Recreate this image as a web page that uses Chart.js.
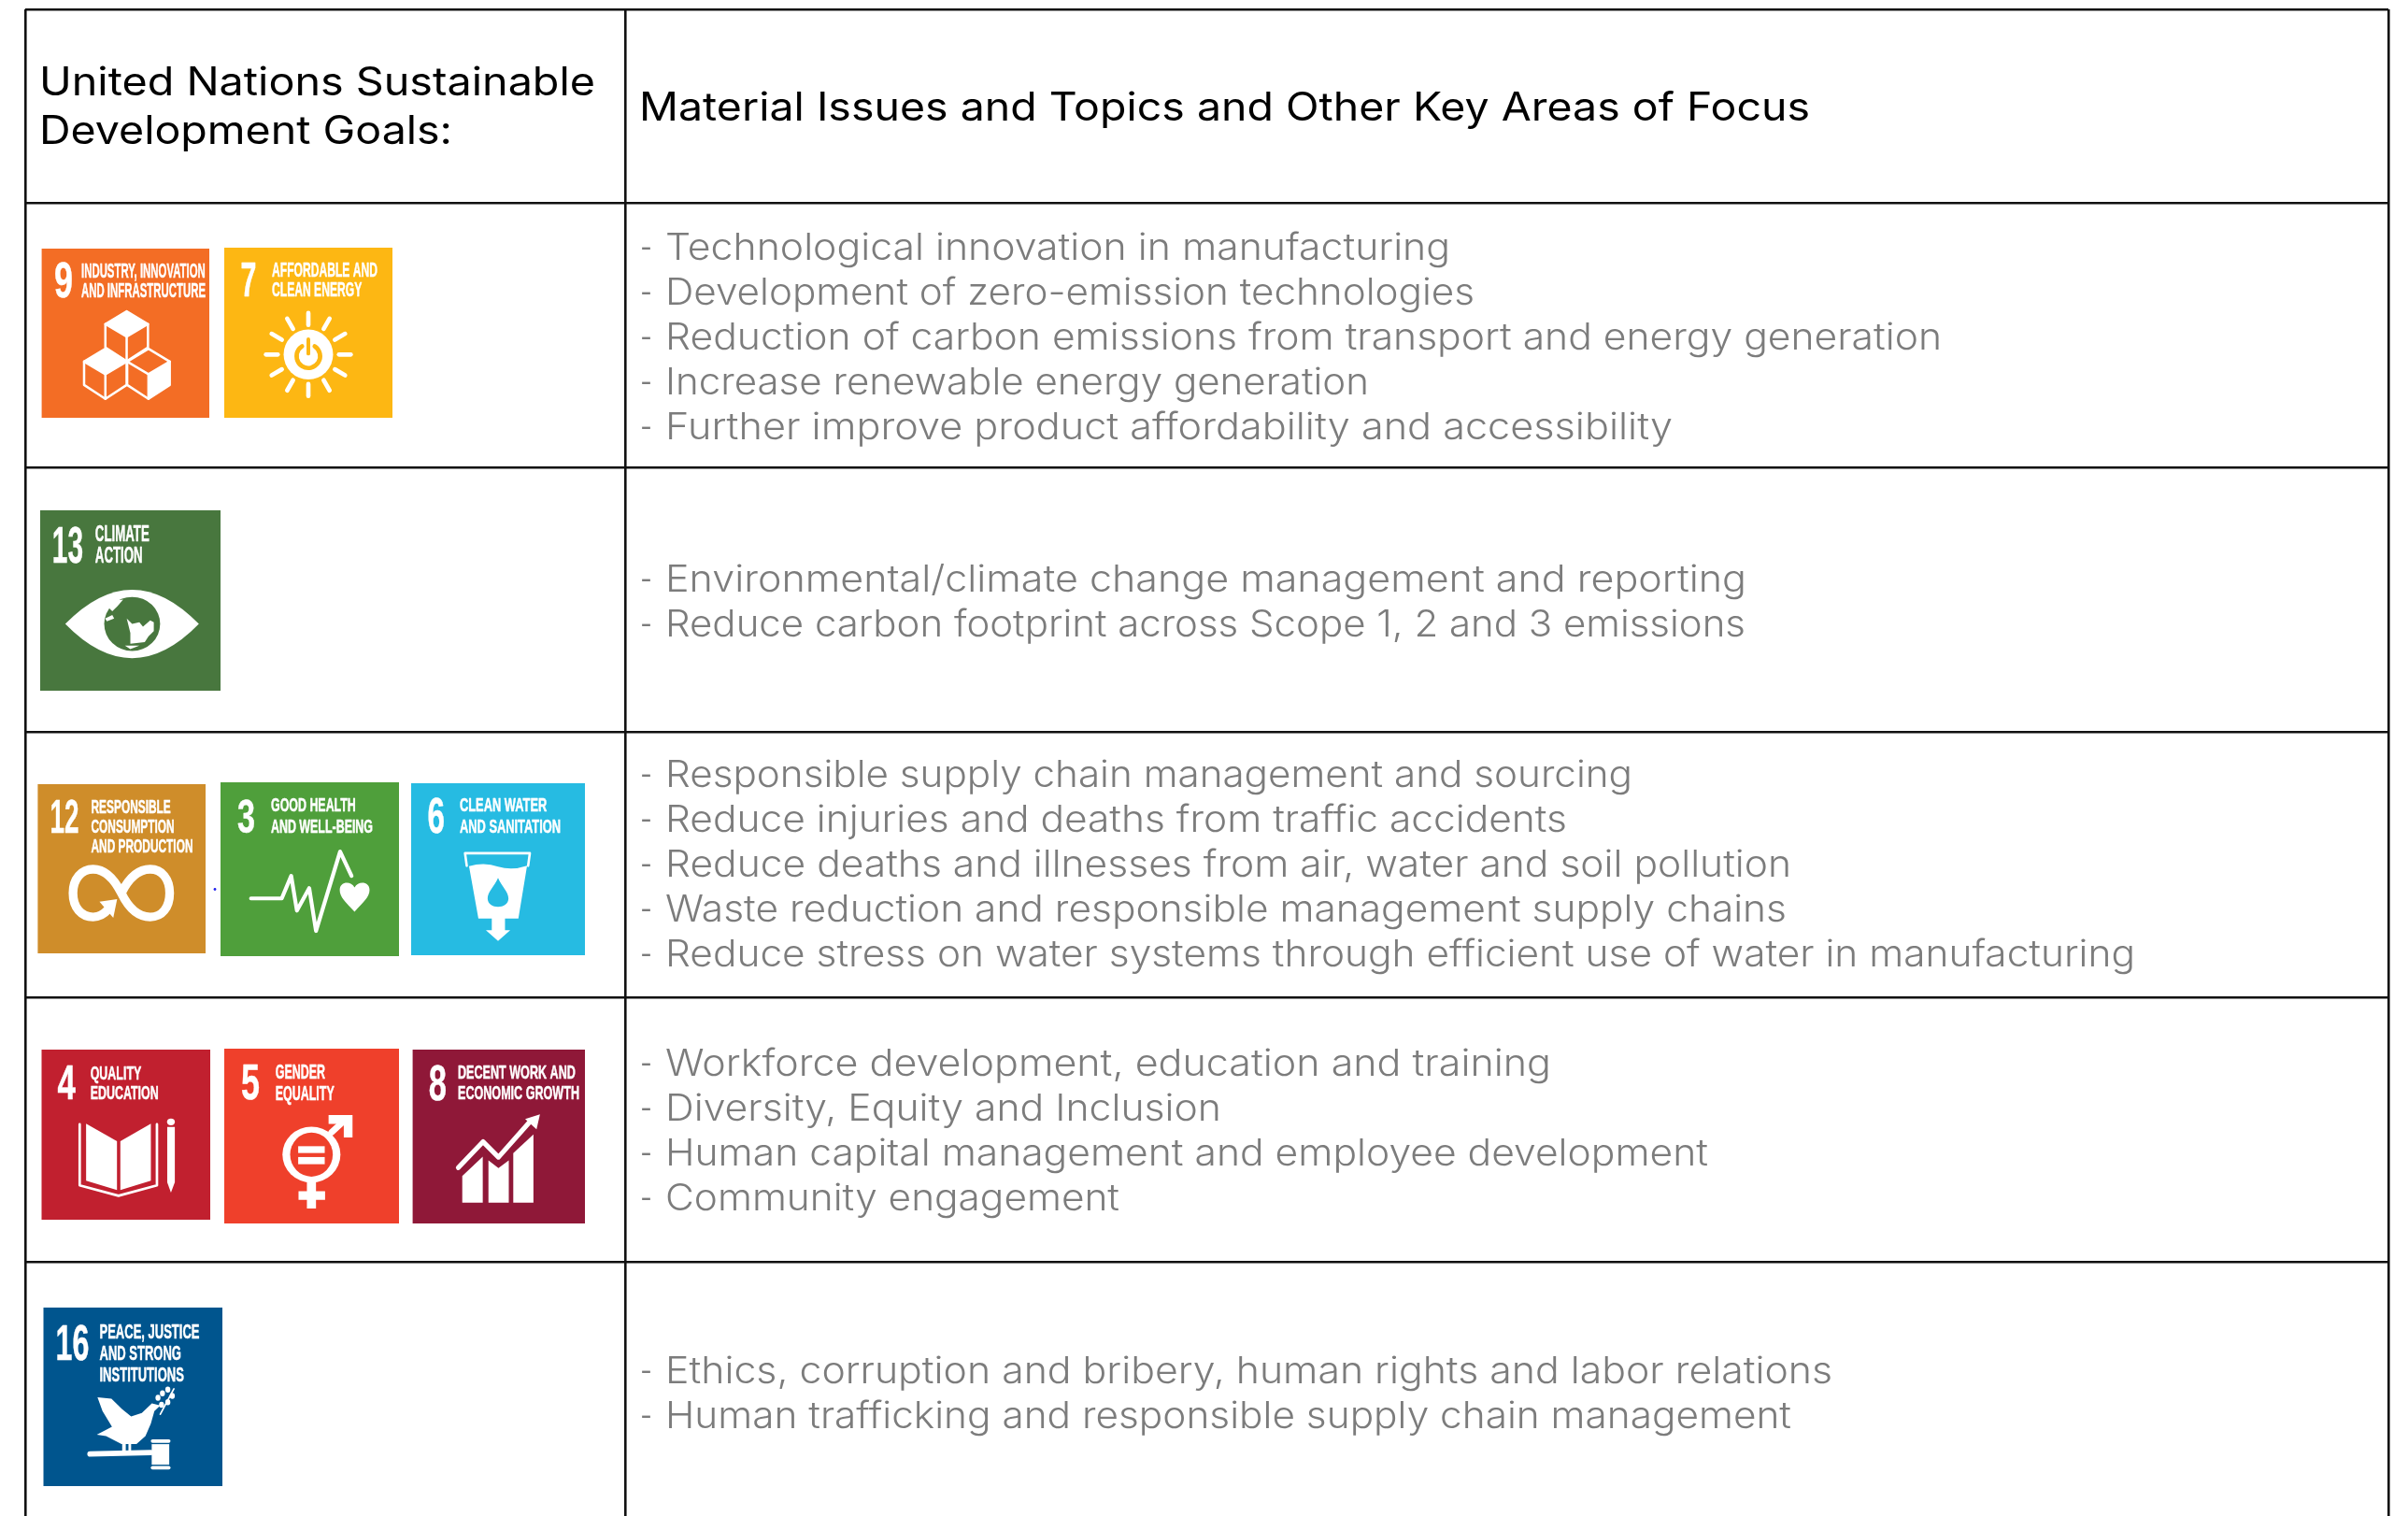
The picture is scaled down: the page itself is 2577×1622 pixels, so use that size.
<!DOCTYPE html>
<html>
<head>
<meta charset="utf-8">
<title>SDG table</title>
<style>
  html, body { margin: 0; padding: 0; background: #fff; overflow: hidden; }
  canvas { display: block; }
</style>
<script src="https://cdn.jsdelivr.net/npm/chart.js@4"></script>
</head>
<body>
<canvas id="myChart" width="2577" height="1622"></canvas>
<script>
// table content
const headerGoals = ['United Nations Sustainable', 'Development Goals:'];
const headerIssues = 'Material Issues and Topics and Other Key Areas of Focus';

const issuesRow1 = [
  '- Technological innovation in manufacturing',
  '- Development of zero-emission technologies',
  '- Reduction of carbon emissions from transport and energy generation',
  '- Increase renewable energy generation',
  '- Further improve product affordability and accessibility'
];
const issuesRow2 = [
  '- Environmental/climate change management and reporting',
  '- Reduce carbon footprint across Scope 1, 2 and 3 emissions'
];
const issuesRow3 = [
  '- Responsible supply chain management and sourcing',
  '- Reduce injuries and deaths from traffic accidents',
  '- Reduce deaths and illnesses from air, water and soil pollution',
  '- Waste reduction and responsible management supply chains',
  '- Reduce stress on water systems through efficient use of water in manufacturing'
];
const issuesRow4 = [
  '- Workforce development, education and training',
  '- Diversity, Equity and Inclusion',
  '- Human capital management and employee development',
  '- Community engagement'
];
const issuesRow5 = [
  '- Ethics, corruption and bribery, human rights and labor relations',
  '- Human trafficking and responsible supply chain management'
];
const issueRows = [issuesRow1, issuesRow2, issuesRow3, issuesRow4, issuesRow5];

const goalNumbers = ['9', '7', '13', '12', '3', '6', '4', '5', '8', '16'];
const goalTitles = [
  ['INDUSTRY, INNOVATION', 'AND INFRASTRUCTURE'],
  ['AFFORDABLE AND', 'CLEAN ENERGY'],
  ['CLIMATE', 'ACTION'],
  ['RESPONSIBLE', 'CONSUMPTION', 'AND PRODUCTION'],
  ['GOOD HEALTH', 'AND WELL-BEING'],
  ['CLEAN WATER', 'AND SANITATION'],
  ['QUALITY', 'EDUCATION'],
  ['GENDER', 'EQUALITY'],
  ['DECENT WORK AND', 'ECONOMIC GROWTH'],
  ['PEACE, JUSTICE', 'AND STRONG', 'INSTITUTIONS']
];

// layout, in the axis units (one unit is one reference pixel)
const columnEdges = [27, 669.5, 2556];
const rowEdges = [10, 217, 500, 783, 1067, 1350];
const firstBaselines = [278, 632.5, 842, 1151, 1480];
const lineStep = 48;
const dashLeft = 685;
const dashWidth = 13;
const issueLeft = 712;
// where each issue line ends
const issueEnds = [
  [1552, 1578, 2078, 1465, 1790],
  [1869, 1868],
  [1747, 1677, 1917, 1912, 2285],
  [1660, 1307, 1828, 1198],
  [1961, 1917]
];

const tileBoxes = [
  [44.6, 266, 224, 447], [240, 265, 420, 447],
  [43, 546, 236, 739],
  [40.4, 839, 220, 1020], [236, 837, 427, 1023], [440, 838, 626, 1022],
  [44.5, 1123, 225, 1305], [240, 1122, 427, 1309], [441.6, 1123, 626, 1309],
  [46.5, 1399, 238, 1590]
];
const tileColors = ['#F36D25', '#FDB713', '#48773E', '#CF8D2A', '#4F9F3B', '#26BBE2', '#C1202F', '#EF402B', '#8F1838', '#00558E'];
// number: left, right, top, baseline
const numberBoxes = [
  [58, 78, 280, 318], [257.6, 274.5, 280, 317],
  [55.8, 89, 561.7, 601.7],
  [53.5, 84.5, 855, 891], [254, 273, 855, 891], [457.5, 476, 853, 891],
  [61.6, 81, 1139, 1176], [258, 278, 1137.7, 1176], [458.8, 478, 1138, 1177],
  [59.6, 95.5, 1416, 1455]
];
const titleLeft = [87, 291, 101.8, 97.5, 290, 492, 96.7, 294.7, 490, 106.5];
const titleWidth = [133, 113, 58, 109, 109, 108, 73, 63, 130, 107];
const titleCap = [16, 15.5, 17.7, 15, 15, 15, 15, 15.5, 15, 15.5];
const titleBaselines = [
  [297, 318], [296, 316.7], [579.3, 601.7], [870, 891, 912.3], [867.7, 891], [867.7, 891],
  [1155, 1176], [1154, 1176.5], [1154, 1176], [1431.7, 1455, 1478]
];

const bodyFont = '300 39px Inter, "Noto Sans", sans-serif';
const headFont = '400 42px Inter, "Noto Sans", sans-serif';
const tileFontFamily = '"Liberation Sans Narrow", "Liberation Sans", sans-serif';

// small path helpers, all in percent of the tile
function makePen(ctx, box, xs, ys) {
  const x0 = xs.getPixelForValue(box[0]), x1 = xs.getPixelForValue(box[2]);
  const y0 = ys.getPixelForValue(box[1]), y1 = ys.getPixelForValue(box[3]);
  const X = p => x0 + (x1 - x0) * p / 100;
  const Y = p => y0 + (y1 - y0) * p / 100;
  const U = (x1 - x0) / 100;
  return {
    X, Y, U,
    poly(points, color) {
      ctx.beginPath();
      points.forEach((p, i) => i ? ctx.lineTo(X(p[0]), Y(p[1])) : ctx.moveTo(X(p[0]), Y(p[1])));
      ctx.closePath();
      ctx.fillStyle = color || '#fff';
      ctx.fill();
    },
    line(points, width, color, close) {
      ctx.beginPath();
      points.forEach((p, i) => i ? ctx.lineTo(X(p[0]), Y(p[1])) : ctx.moveTo(X(p[0]), Y(p[1])));
      if (close) ctx.closePath();
      ctx.lineWidth = width * U;
      ctx.lineJoin = 'round';
      ctx.lineCap = 'round';
      ctx.strokeStyle = color || '#fff';
      ctx.stroke();
    },
    oval(cx, cy, rx, ry, color) {
      ctx.beginPath();
      ctx.ellipse(X(cx), Y(cy), rx * U, ry * (y1 - y0) / 100, 0, 0, Math.PI * 2);
      ctx.fillStyle = color || '#fff';
      ctx.fill();
    }
  };
}

function cube(p, dx, dy, filled) {
  const pts = [[0, -15], [12.7, -7.4], [12.7, 6.4], [0, 14.6], [-12.7, 6.4], [-12.7, -7.4]].map(q => [q[0] + dx, q[1] + dy]);
  const c = [dx, dy];
  if (filled === 'top') p.poly([pts[0], pts[1], c, pts[5]]);
  if (filled === 'front') p.poly([c, pts[1], pts[2], pts[3]]);
  p.line(pts, 1.4, '#fff', true);
  p.line([pts[5], c, pts[1]], 1.4);
  p.line([c, pts[3]], 1.4);
}

const tileIcons = [
  // 9 cubes
  (p) => {
    cube(p, 50.7, 52, 'top');
    cube(p, 38, 74.2, 'top');
    cube(p, 63.7, 74.2, 'front');
  },
  // 7 sun with power sign
  (p, ctx, color) => {
    const cx = 50, cy = 62.8;
    p.oval(cx, cy, 14.7, 14.7);
    for (let i = 0; i < 12; i++) {
      const a = i * Math.PI / 6;
      const ax = Math.cos(a), ay = Math.sin(a);
      p.line([[cx + 18.2 * ax, cy + 17.4 * ay], [cx + 25.2 * ax, cy + 24.4 * ay]], 2.6);
    }
    ctx.beginPath();
    ctx.arc(p.X(cx), p.Y(cy + 1), 7 * p.U, -Math.PI * 0.32, Math.PI * 1.32);
    ctx.lineWidth = 2.6 * p.U;
    ctx.strokeStyle = color;
    ctx.lineCap = 'round';
    ctx.stroke();
    p.line([[cx, cy - 9], [cx, cy]], 4.2, '#fff');
    p.line([[cx, cy - 9], [cx, cy - 0.5]], 2.2, color);
  },
  // 13 eye and globe
  (p, ctx, color) => {
    ctx.beginPath();
    ctx.moveTo(p.X(13.9), p.Y(63));
    ctx.quadraticCurveTo(p.X(51), p.Y(25), p.X(88), p.Y(63));
    ctx.quadraticCurveTo(p.X(51), p.Y(101), p.X(13.9), p.Y(63));
    ctx.closePath();
    ctx.fillStyle = '#fff';
    ctx.fill();
    p.oval(51, 63, 15.5, 15, color);
    p.poly([[38, 54], [41, 50], [46, 49.5], [43, 53], [40, 56]]);
    p.poly([[36, 60], [40, 58], [41, 60], [37, 61.5]]);
    p.poly([[48, 60], [51, 63], [55, 62], [57, 64.5], [61, 61], [63, 62], [63, 67], [60, 70], [58, 73], [50, 74], [50, 68]]);
    p.poly([[47, 75], [55, 75], [50, 77]]);
  },
  // 12 infinity
  (p, ctx) => {
    ctx.beginPath();
    ctx.moveTo(p.X(49.8), p.Y(64.4));
    ctx.bezierCurveTo(p.X(55), p.Y(54), p.X(61), p.Y(50.3), p.X(67), p.Y(50.3));
    ctx.bezierCurveTo(p.X(74), p.Y(50.3), p.X(78.6), p.Y(56), p.X(78.6), p.Y(64.4));
    ctx.bezierCurveTo(p.X(78.6), p.Y(73), p.X(74), p.Y(78.5), p.X(67), p.Y(78.5));
    ctx.bezierCurveTo(p.X(60), p.Y(78.5), p.X(54), p.Y(73), p.X(49.8), p.Y(64.4));
    ctx.bezierCurveTo(p.X(45), p.Y(55), p.X(39), p.Y(50.3), p.X(33), p.Y(50.3));
    ctx.bezierCurveTo(p.X(26), p.Y(50.3), p.X(21), p.Y(56), p.X(21), p.Y(64.4));
    ctx.bezierCurveTo(p.X(21), p.Y(73), p.X(26), p.Y(78.5), p.X(33), p.Y(78.5));
    ctx.quadraticCurveTo(p.X(38), p.Y(78.5), p.X(42), p.Y(74));
    ctx.lineWidth = 5.2 * p.U;
    ctx.strokeStyle = '#fff';
    ctx.lineCap = 'butt';
    ctx.stroke();
    p.poly([[36.8, 69.5], [47.3, 68], [45, 79]]);
  },
  // 3 heartbeat
  (p, ctx) => {
    p.line([[17.1, 66.8], [34.3, 66.8], [39.6, 53.8], [42.8, 73.8], [49.7, 60.9], [53.5, 85.5], [67, 39.8], [73.4, 53.8]], 2.2);
    ctx.beginPath();
    ctx.moveTo(p.X(75.1), p.Y(74.4));
    ctx.bezierCurveTo(p.X(70), p.Y(69), p.X(66.8), p.Y(66), p.X(66.8), p.Y(62));
    ctx.bezierCurveTo(p.X(66.8), p.Y(57), p.X(73), p.Y(56.5), p.X(75.1), p.Y(60.5));
    ctx.bezierCurveTo(p.X(77.2), p.Y(56.5), p.X(83.5), p.Y(57), p.X(83.5), p.Y(62));
    ctx.bezierCurveTo(p.X(83.5), p.Y(66), p.X(80), p.Y(69), p.X(75.1), p.Y(74.4));
    ctx.fillStyle = '#fff';
    ctx.fill();
  },
  // 6 glass
  (p, ctx, color) => {
    p.line([[32, 48], [31, 40.7], [68.3, 40.7], [67.3, 48]], 1.4);
    ctx.beginPath();
    ctx.moveTo(p.X(33.3), p.Y(48.3));
    ctx.quadraticCurveTo(p.X(42), p.Y(45.5), p.X(50), p.Y(48.5));
    ctx.quadraticCurveTo(p.X(58), p.Y(51), p.X(66.7), p.Y(48));
    ctx.lineTo(p.X(61.7), p.Y(78.7));
    ctx.lineTo(p.X(38.7), p.Y(78.7));
    ctx.closePath();
    ctx.fillStyle = '#fff';
    ctx.fill();
    p.poly([[46.4, 78], [54, 78], [54, 85.4], [57, 85.4], [50, 91.7], [43, 85.4], [46.4, 85.4]]);
    ctx.beginPath();
    ctx.moveTo(p.X(50), p.Y(55));
    ctx.bezierCurveTo(p.X(52), p.Y(60), p.X(56), p.Y(63), p.X(56), p.Y(67));
    ctx.bezierCurveTo(p.X(56), p.Y(73.5), p.X(44), p.Y(73.5), p.X(44), p.Y(67));
    ctx.bezierCurveTo(p.X(44), p.Y(63), p.X(48), p.Y(60), p.X(50), p.Y(55));
    ctx.fillStyle = color;
    ctx.fill();
  },
  // 4 book and pencil
  (p) => {
    p.poly([[26.4, 43.5], [44.7, 53.8], [44.7, 82.5], [26.4, 77]]);
    p.poly([[46.7, 53.8], [64.8, 43.5], [64.8, 77], [46.7, 82.5]]);
    p.line([[22.6, 43.9], [22.6, 79.8], [45.6, 85.9], [68.4, 79.8], [68.4, 43.9]], 1.5);
    p.oval(76.7, 42.5, 2.3, 2);
    p.poly([[74.5, 45.5], [79, 45.5], [79, 78], [76.7, 84], [74.5, 78]]);
  },
  // 5 gender
  (p) => {
    p.line([[61.4, 47.8], [70, 40]], 3.6);
    p.poly([[59.7, 38], [73.4, 38], [73.4, 50.8], [68.4, 50.8], [68.4, 43], [59.7, 43]]);
    p.oval(49.9, 60.6, 16.6, 16);
    p.oval(49.9, 60.6, 12.2, 12.6, tileColors[7]);
    p.poly([[42.3, 55.8], [57.5, 55.8], [57.5, 59.7], [42.3, 59.7]]);
    p.poly([[42.3, 62], [57.5, 62], [57.5, 66.1], [42.3, 66.1]]);
    p.poly([[47.3, 76], [52.5, 76], [52.5, 81.6], [57.7, 81.6], [57.7, 86.5], [52.5, 86.5], [52.5, 91.4], [47.3, 91.4], [47.3, 86.5], [42.5, 86.5], [42.5, 81.6], [47.3, 81.6]]);
  },
  // 8 growth chart
  (p) => {
    p.poly([[28.8, 88], [28.8, 72.7], [40.7, 61.6], [40.7, 88]]);
    p.poly([[44, 88], [44, 63.7], [49.8, 68.2], [55.8, 63.7], [55.8, 88]]);
    p.poly([[58.4, 88], [58.4, 59.6], [70.1, 48.8], [70.1, 88]]);
    p.line([[26.5, 67.9], [40.9, 53], [49.8, 61.9], [68, 41.5]], 2.8);
    p.poly([[73.9, 37.2], [65.3, 39.9], [71.9, 45.8]]);
  },
  // 16 dove and gavel
  (p) => {
    p.poly([[30.2, 50.2], [38, 51], [44, 57], [49, 61], [55, 59], [60.6, 53.7], [65.3, 54.9], [62, 58], [60, 65], [57, 72], [52, 76.4], [43.6, 76.4], [35, 72], [29.8, 71.2], [38.3, 66.8], [33, 58]]);
    p.line([[65.3, 59.8], [72.9, 45.5]], 0.9);
    [[64, 50.5], [66.5, 48], [69.5, 46], [72, 49.5], [69.5, 53], [66, 54.5]].forEach(l => p.oval(l[0], l[1], 1.4, 1.7));
    p.poly([[44, 76], [46, 76], [46, 81], [44, 81]]);
    p.poly([[47.5, 76], [49, 76], [49, 81], [47.5, 81]]);
    p.line([[26, 82], [60, 81.2]], 3);
    p.line([[61, 74.8], [70, 74.8]], 2);
    p.line([[61, 89.7], [70, 89.7]], 2);
    p.poly([[60.5, 76.5], [70.3, 76.5], [70.3, 88], [60.5, 88]]);
  }
];

// draw a text stretched so that its width comes out as given
function fitText(ctx, text, x, baseline, width) {
  const scaleX = width / ctx.measureText(text).width;
  ctx.save();
  ctx.translate(x, baseline);
  ctx.scale(scaleX, 1);
  ctx.fillText(text, 0, 0);
  ctx.restore();
}

// squeezed tile lettering
function squeezed(ctx, text, x, baseline, cap, width, measure) {
  ctx.font = 'bold ' + (cap / 0.72) + 'px ' + tileFontFamily;
  const scaleX = width / ctx.measureText(measure || text).width;
  ctx.save();
  ctx.translate(x, baseline);
  ctx.scale(scaleX, 1);
  ctx.fillText(text, 0, 0);
  ctx.lineWidth = 0.5;
  ctx.strokeStyle = '#fff';
  ctx.strokeText(text, 0, 0);
  ctx.restore();
}

const tablePlugin = {
  id: 'tablePlugin',
  afterDraw(chart) {
    const ctx = chart.ctx, xs = chart.scales.x, ys = chart.scales.y;
    ctx.save();
    ctx.textBaseline = 'alphabetic';
    ctx.textAlign = 'left';

    // header
    ctx.fillStyle = '#000';
    ctx.font = headFont;
    fitText(ctx, headerGoals[0], xs.getPixelForValue(42), ys.getPixelForValue(102), 595);
    fitText(ctx, headerGoals[1], xs.getPixelForValue(42), ys.getPixelForValue(153.5), 442);
    fitText(ctx, headerIssues, xs.getPixelForValue(684), ys.getPixelForValue(128.5), 1253);

    // issue lines, the dash is set apart from the words
    ctx.fillStyle = '#7c7c7c';
    ctx.font = bodyFont;
    issueRows.forEach((lines, r) => {
      lines.forEach((line, i) => {
        const y = ys.getPixelForValue(firstBaselines[r] + i * lineStep);
        fitText(ctx, '-', xs.getPixelForValue(dashLeft), y, dashWidth);
        fitText(ctx, line.slice(2), xs.getPixelForValue(issueLeft), y, issueEnds[r][i] - issueLeft);
      });
    });

    // goal tiles
    goalNumbers.forEach((num, i) => {
      const box = tileBoxes[i];
      const color = tileColors[i];
      const left = xs.getPixelForValue(box[0]), top = ys.getPixelForValue(box[1]);
      ctx.fillStyle = color;
      ctx.fillRect(left, top, xs.getPixelForValue(box[2]) - left, ys.getPixelForValue(box[3]) - top);

      ctx.fillStyle = '#fff';
      const nb = numberBoxes[i];
      squeezed(ctx, num, xs.getPixelForValue(nb[0]), ys.getPixelForValue(nb[3]), nb[3] - nb[2], nb[1] - nb[0]);

      ctx.font = 'bold 20px ' + tileFontFamily;
      const longest = goalTitles[i].reduce((a, b) => ctx.measureText(b).width > ctx.measureText(a).width ? b : a);
      goalTitles[i].forEach((t, k) => {
        ctx.fillStyle = '#fff';
        squeezed(ctx, t, xs.getPixelForValue(titleLeft[i]), ys.getPixelForValue(titleBaselines[i][k]), titleCap[i], titleWidth[i], longest);
      });

      tileIcons[i](makePen(ctx, box, xs, ys), ctx, color);
    });

    // stray dot between the tiles of the third row
    ctx.fillStyle = '#2222ee';
    ctx.beginPath();
    ctx.arc(xs.getPixelForValue(230), ys.getPixelForValue(951.5), 1.4, 0, Math.PI * 2);
    ctx.fill();
    ctx.restore();
  }
};

const ctx = document.getElementById('myChart');

const myChart = new Chart(ctx, {
  type: 'scatter',
  data: { datasets: [] },
  plugins: [tablePlugin],
  options: {
    responsive: false,
    animation: false,
    devicePixelRatio: 1,
    layout: { padding: { left: 27, right: 21, top: 10, bottom: 0 } },
    plugins: { legend: { display: false }, tooltip: { enabled: false } },
    scales: {
      x: {
        type: 'linear',
        min: columnEdges[0],
        max: columnEdges[2],
        afterBuildTicks: (scale) => { scale.ticks = columnEdges.map(value => ({ value })); },
        ticks: { display: false },
        border: { display: false },
        grid: { color: '#111', lineWidth: 2.6, drawTicks: false }
      },
      y: {
        type: 'linear',
        reverse: true,
        min: rowEdges[0],
        max: 1622,
        afterBuildTicks: (scale) => { scale.ticks = rowEdges.map(value => ({ value })); },
        ticks: { display: false },
        border: { display: false },
        grid: { color: '#111', lineWidth: 2.6, drawTicks: false }
      }
    }
  }
});
</script>
</body>
</html>
